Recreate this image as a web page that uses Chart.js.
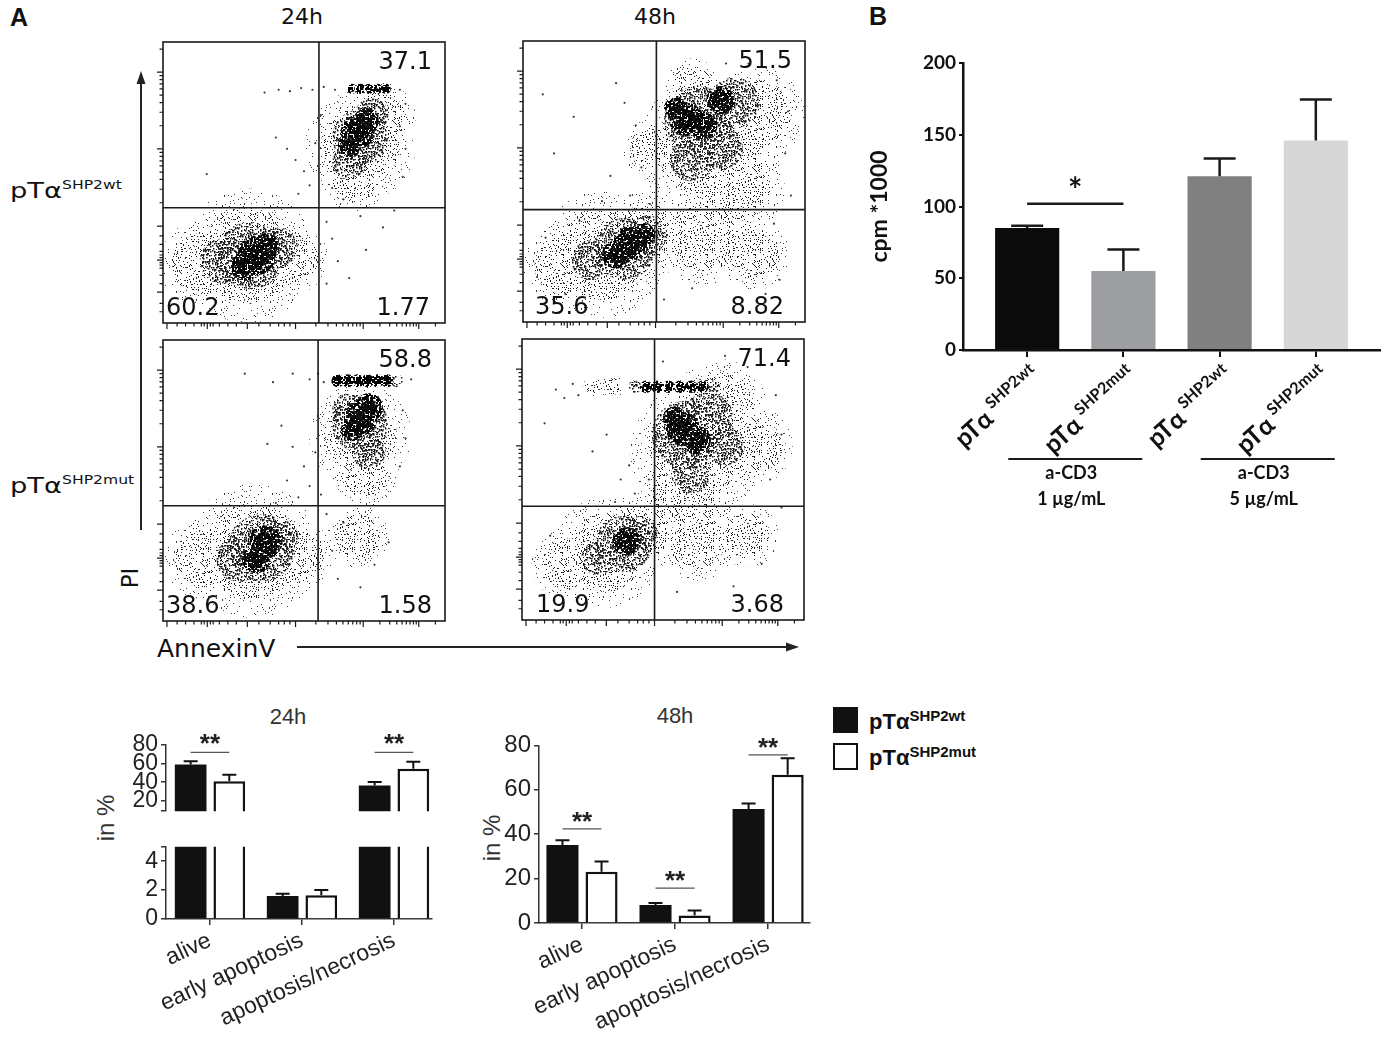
<!DOCTYPE html>
<html>
<head>
<meta charset="utf-8">
<script src="https://cdn.jsdelivr.net/npm/chart.js@4.4.1/dist/chart.umd.min.js"></script>
<style>
  html, body { margin: 0; padding: 0; background: #fff; }
  #page { position: relative; width: 1399px; height: 1053px; overflow: hidden; color: #111; }
  canvas { position: absolute; }
  .t { position: absolute; white-space: nowrap; line-height: 1; }
  .ctr { text-align: center; }
  .flowlab { font: 21px 'DejaVu Sans'; transform: scaleX(1.3); transform-origin: left center; }
  .flowlab span { font-size: 12px; position: relative; top: -9px; }
  .leg { font: bold 22px 'Liberation Sans'; }
  .leg span { font-size: 15px; position: relative; top: -8px; }
  .rot { transform: translate(-50%, -50%) rotate(-90deg); }
  .box { position: absolute; box-sizing: border-box; }
</style>
</head>
<body>
<div id="page">
  <div class="t" style="left:10px;top:3px;font:bold 25px 'Liberation Sans'">A</div>
  <div class="t" style="left:869px;top:2px;font:bold 25px 'Liberation Sans'">B</div>
  <div class="t ctr" style="left:252px;top:4px;width:100px;font:22px 'DejaVu Sans'">24h</div>
  <div class="t ctr" style="left:605px;top:4px;width:100px;font:22px 'DejaVu Sans'">48h</div>
  <div class="t flowlab" style="left:10px;top:179px">pTα<span>SHP2wt</span></div>
  <div class="t flowlab" style="left:10px;top:474px">pTα<span>SHP2mut</span></div>
  <div class="t rot" style="left:130px;top:578px;font:23px 'DejaVu Sans'">PI</div>
  <div class="t" style="left:157px;top:634px;font:25px 'DejaVu Sans'">AnnexinV</div>
  <svg width="1399" height="1053" style="position:absolute;left:0;top:0;pointer-events:none">
    <line x1="141" y1="530" x2="141" y2="82" stroke="#222" stroke-width="2"/>
    <polygon points="141,71 136.5,84 145.5,84" fill="#222"/>
    <line x1="297" y1="647" x2="788" y2="647" stroke="#222" stroke-width="2"/>
    <polygon points="799,647 786,642.5 786,651.5" fill="#222"/>
  </svg>

  <div class="t ctr" style="left:238px;top:704px;width:100px;font:22px 'Liberation Sans';color:#333">24h</div>
  <div class="t ctr" style="left:625px;top:703px;width:100px;font:22px 'Liberation Sans';color:#333">48h</div>
  <div class="t rot" style="left:106px;top:818px;font:24px 'Liberation Sans';color:#333">in %</div>
  <div class="t rot" style="left:492px;top:838px;font:24px 'Liberation Sans';color:#333">in %</div>

  <div class="box" style="left:833px;top:707px;width:25px;height:26px;background:#111"></div>
  <div class="box" style="left:833px;top:743px;width:25px;height:27px;border:2.5px solid #111;background:#fff"></div>
  <div class="t leg" style="left:869px;top:709px">pTα<span>SHP2wt</span></div>
  <div class="t leg" style="left:869px;top:745px">pTα<span>SHP2mut</span></div>
</div>
<script>
// ---------- Panel A: AnnexinV / PI dot plots (both axes 0-100 display units) ----------
const gatesX = [55.3, 47.3, 55, 47];
const gatesY = [41, 40, 41, 40.5];
const quadrantUR = ['37.1', '51.5', '58.8', '71.4'];
const quadrantLL = ['60.2', '35.6', '38.6', '19.9'];
const quadrantLR = ['1.77', '8.82', '1.58', '3.68'];

// cell populations: [annexin, PI, spread]
const wt24Haze = [[30,24,17],[14,21,11],[46,23,9],[70,63,14],[68,51,8],[77,73,9]];
const wt24Body = [[31,24,12],[21,22,8],[41,27,7],[70,66,10],[66,57,6],[74,74,6]];
const wt24Core = [[33,24,7],[29,20,5],[37,28,4],[69,68,6],[72,72,4.5],[66,63,4],
                  [67,83.3,1.8],[70,83.3,1.8],[73,83.3,1.8],[76,83.3,1.8],[79,83.3,1.8]];
const wt24Dots = [[36,82],[41,83],[45,82.5],[49,83.6],[53,83],[57,84],[61,83],[84,83],[86,78],
                  [40,66],[44,62],[47,58],[50,54],[52,49],[48,46],[54,64],[15.5,53],[58,36],
                  [60,30],[62,22],[66,16],[72,26],[78,34],[82,40],[58,14],[70,38],[64,44],
                  [86,62],[85,52],[60,48],[56,74],[84,70]];

const wt48Haze = [[28,24,16],[14,20,10],[44,31,11],[64,30,12],[82,24,9],[66,62,18],[76,48,12],
                  [83,74,12],[45,62,7],[60,84,7]];
const wt48Body = [[36,26,11],[44,31,7],[24,22,7],[62,72,12],[75,78,9],[60,58,8],[70,62,8]];
const wt48Core = [[38,28,6],[33,24,5],[43,31,4],[58,72,6],[70,79,5],[54,76,4],[64,70,5]];
const wt48Dots = [[7,81],[18,73],[11,60],[33,85],[36,78],[40,70],[31,52],[38,45],[42,55],[45,42],
                  [28,43],[90,86],[93,60],[95,45],[89,35],[91,15],[86,10],[60,12],[50,8],[15,10],
                  [8,30],[72,92],[80,92],[94,75],[5,16],[20,36]];

const mut24Haze = [[32,25,17],[14,22,10],[48,23,9],[70,66,13],[72,52,8],[69,30,8]];
const mut24Body = [[35,26,12],[27,22,8],[42,30,6],[70,70,10],[73,60,6],[66,75,6],[83,85.5,2.3]];
const mut24Core = [[36,28,6],[33,22,5],[70,72,6],[73,76,5],[67,68,4],
                   [62,85.5,2.3],[65.5,85.5,2.3],[69,85.5,2.3],[72.5,85.5,2.3],[76,85.5,2.3],[79.5,85.5,2.3]];
const mut24Dots = [[29,88],[39,85],[46,88],[37,63],[42,69.5],[46,62],[50,55],[52,48],[48,44],
                   [44,50],[54,60],[40,42],[56,45],[60,25],[62,15],[75,20],[80,28],[70,12],
                   [64,35],[58,38],[85,75],[84,55],[86,65],[55,88],[52,86],[57,85],[88,86]];

const mut48Haze = [[30,24,14],[16,20,9],[42,31,10],[62,60,17],[70,76,12],[58,45,12],[62,28,10],
                   [80,30,8],[82,62,10],[32,83,3],[25,83,2.5]];
const mut48Body = [[36,27,10],[42,31,6],[27,22,6],[58,66,12],[66,72,9],[60,52,7],[72,62,7],
                   [40,83,2.3],[68,83,2.3]];
const mut48Core = [[37,28,5],[57,68,6],[62,64,5],[54,72,4],
                   [44,83,2.2],[48,83,2.2],[52,83,2.2],[56,83,2.2],[60,83,2.2],[64,83,2.2]];
const mut48Dots = [[12,82],[20,80],[8,70],[25,60],[30,66],[35,50],[38,55],[40,45],[33,42],[45,50],
                   [90,80],[92,66],[88,50],[92,40],[85,20],[75,12],[55,10],[20,8],[10,30],[72,94],
                   [80,90],[50,92],[18,84],[15,79]];

// log-like instrument ticks
const flowMajorX = [1.4, 15.7, 29.9, 47, 71, 90.7];
const flowMinorX = [5, 8, 11, 13.6, 14.6, 16.8, 17.8, 20, 23, 26, 34, 38, 41, 43, 45,
                    54.2, 58.5, 61.5, 63.8, 65.7, 67.3, 68.7, 69.9,
                    76.9, 80.4, 82.9, 84.8, 86.3, 87.6, 88.8, 89.8, 96.6];
const flowMajorY = [11, 22.4, 34.5, 62, 89.3];
const flowMinorY = [4, 7, 14, 17, 19.5, 20.6, 21.5, 23.3, 24.2, 25.5, 28, 31,
                    42.8, 47.6, 51.1, 53.7, 55.9, 57.7, 59.3, 60.7,
                    70.2, 75, 78.4, 81.1, 83.3, 85.1, 86.6, 88, 97.5];

// ---------- Bottom: percentages ----------
const categories = ['alive', 'early apoptosis', 'apoptosis/necrosis'];
const wt24 = [59, 1.6, 36.5];
const wt24Err = [3.3, 0.15, 3.8];
const mut24 = [41, 1.65, 54.5];
const mut24Err = [7, 0.35, 7.5];
const sig24Cats = [0, 2];
const sig24Level = [72, 72];

const wt48 = [35.1, 8.1, 51.3];
const wt48Err = [2.2, 0.9, 2.5];
const mut48 = [23.1, 3.4, 66.8];
const mut48Err = [4.6, 2.2, 7.4];
const sig48Cats = [0, 1, 2];
const sig48Level = [42.4, 15.7, 75.7];

// ---------- Panel B: proliferation ----------
const prolifSups = ['SHP2wt', 'SHP2mut', 'SHP2wt', 'SHP2mut'];
const prolifValues = [85, 55, 121, 146];
const prolifErr = [1.5, 15, 12.5, 28.5];
const prolifSigLevel = 102;
const groupNames = ['a-CD3', 'a-CD3'];
const groupDoses = ['1 µg/mL', '5 µg/mL'];
const groupMembers = [[1, 2], [3, 4]];

// ---------------------------------------------------------------
Chart.defaults.font.family = "'Liberation Sans', Arial, sans-serif";
Chart.defaults.color = '#222';
Chart.defaults.animation = false;
Chart.defaults.events = [];
Chart.defaults.plugins.legend.display = false;
Chart.defaults.plugins.tooltip.enabled = false;
Chart.defaults.responsive = false;

const page = document.getElementById('page');
function addCanvas(left, top, w, h) {
  const c = document.createElement('canvas');
  c.width = w; c.height = h;
  c.style.left = left + 'px'; c.style.top = top + 'px';
  c.style.width = w + 'px'; c.style.height = h + 'px';
  page.appendChild(c);
  return c;
}

// dotted texture so the clouds look like acquired events
function speckle(seed, density, size, color) {
  const n = 48;
  const c = document.createElement('canvas');
  c.width = n; c.height = n;
  const g = c.getContext('2d');
  g.fillStyle = color;
  for (let i = 0; i < n; i += 2) {
    for (let j = 0; j < n; j += 2) {
      let h = Math.imul(i * 31 + seed * 7, 0x9E3779B1) ^ Math.imul(j * 17 + seed * 101, 0x85EBCA77);
      h = Math.imul(h ^ (h >>> 15), 0x2C1B3C6D);
      h = (h ^ (h >>> 12)) >>> 0;
      if (h % 1000 < density * 1000) {
        g.fillRect(i + ((h >>> 20) % 2), j + ((h >>> 24) % 2), size, size);
      }
    }
  }
  return g.createPattern(c, 'repeat');
}
const fringeFill = speckle(4, 0.12, 1, 'rgba(40,40,40,0.9)');
const hazeFill = speckle(1, 0.3, 1, '#1a1a1a');
const bodyFill = speckle(2, 0.55, 1.5, '#111');
const coreFill = speckle(3, 0.75, 2, '#000');
const innerFill = speckle(5, 0.85, 2, '#000');

const llInset = [3, 12, 3, 14];
const lrInset = [15, 21, 13, 20];

const flowFrame = idx => ({
  id: 'flowFrame',
  afterDatasetsDraw(chart) {
    const {ctx, chartArea: a, scales: {x, y}} = chart;
    ctx.save();
    ctx.strokeStyle = '#1a1a1a';
    ctx.lineWidth = 1.6;
    ctx.strokeRect(a.left, a.top, a.right - a.left, a.bottom - a.top);
    const gx = x.getPixelForValue(gatesX[idx]);
    const gy = y.getPixelForValue(gatesY[idx]);
    ctx.beginPath();
    ctx.moveTo(gx, a.top); ctx.lineTo(gx, a.bottom);
    ctx.moveTo(a.left, gy); ctx.lineTo(a.right, gy);
    ctx.stroke();
    ctx.lineWidth = 1.2;
    ctx.beginPath();
    flowMajorX.forEach(v => { const p = x.getPixelForValue(v); ctx.moveTo(p, a.bottom); ctx.lineTo(p, a.bottom + 6); });
    flowMinorX.forEach(v => { const p = x.getPixelForValue(v); ctx.moveTo(p, a.bottom); ctx.lineTo(p, a.bottom + 3.5); });
    flowMajorY.forEach(v => { const p = y.getPixelForValue(v); ctx.moveTo(a.left, p); ctx.lineTo(a.left - 6, p); });
    flowMinorY.forEach(v => { const p = y.getPixelForValue(v); ctx.moveTo(a.left, p); ctx.lineTo(a.left - 3.5, p); });
    ctx.stroke();
    ctx.fillStyle = '#111';
    ctx.font = "24px 'DejaVu Sans'";
    ctx.textBaseline = 'alphabetic';
    ctx.textAlign = 'right';
    ctx.fillText(quadrantUR[idx], a.right - 13, a.top + 27);
    ctx.fillText(quadrantLR[idx], a.right - lrInset[idx], a.bottom - 8);
    ctx.textAlign = 'left';
    ctx.fillText(quadrantLL[idx], a.left + llInset[idx], a.bottom - 8);
    ctx.restore();
  }
});

const spreadPx = k => ctx => {
  const s = ctx.chart.scales.x;
  return k * Math.abs(s.getPixelForValue(ctx.raw.s) - s.getPixelForValue(0));
};
const toCloud = arr => arr.map(p => ({x: p[0], y: p[1], s: p[2]}));
const toDots = arr => arr.map(p => ({x: p[0], y: p[1]}));

function flowPlot(idx, left, top, haze, body, core, dots) {
  const w = 282, h = 281;
  const cv = addCanvas(left - 12, top - 4, w + 16, h + 16);
  const cloud = (pts, fill, k) => ({
    data: toCloud(pts), pointRadius: spreadPx(k), pointBackgroundColor: fill,
    pointBorderWidth: 0, showLine: false, clip: 0
  });
  new Chart(cv, {
    type: 'scatter',
    data: { datasets: [
      cloud(haze, fringeFill, 1.4), cloud(haze, hazeFill, 1), cloud(body, bodyFill, 1),
      cloud(core, coreFill, 1), cloud(core, innerFill, 0.6),
      { data: toDots(dots), pointRadius: 1.1, pointBackgroundColor: '#3a3a3a',
        pointBorderWidth: 0, showLine: false, clip: 0 }
    ]},
    options: {
      layout: { padding: { left: 12, top: 4, right: 4, bottom: 12 } },
      scales: {
        x: { type: 'linear', min: 0, max: 100, display: false },
        y: { type: 'linear', min: 0, max: 100, display: false }
      }
    },
    plugins: [flowFrame(idx)]
  });
}

flowPlot(0, 163, 42, wt24Haze, wt24Body, wt24Core, wt24Dots);
flowPlot(1, 523, 41, wt48Haze, wt48Body, wt48Core, wt48Dots);
flowPlot(2, 163, 340, mut24Haze, mut24Body, mut24Core, mut24Dots);
flowPlot(3, 522, 339, mut48Haze, mut48Body, mut48Core, mut48Dots);

// ---------- percentage bar charts ----------
const errorBars = (errs, sigCats, sigLevels, starShift) => ({
  id: 'errorBars',
  afterDatasetsDraw(chart) {
    const {ctx, chartArea: a, scales: {y}} = chart;
    ctx.save();
    ctx.beginPath();
    ctx.rect(a.left, a.top - 1, a.right - a.left, a.bottom - a.top + 2);
    ctx.clip();
    ctx.strokeStyle = '#111';
    ctx.lineWidth = 2;
    chart.data.datasets.forEach((ds, di) => {
      chart.getDatasetMeta(di).data.forEach((bar, i) => {
        const top = y.getPixelForValue(ds.data[i] + errs[di][i]);
        ctx.beginPath();
        ctx.moveTo(bar.x, bar.y); ctx.lineTo(bar.x, top);
        ctx.moveTo(bar.x - 7, top); ctx.lineTo(bar.x + 7, top);
        ctx.stroke();
      });
    });
    ctx.restore();
    if (!sigCats) return;
    const wtBars = chart.getDatasetMeta(0).data, mutBars = chart.getDatasetMeta(1).data;
    ctx.save();
    ctx.strokeStyle = '#555';
    ctx.lineWidth = 1.3;
    ctx.fillStyle = '#222';
    ctx.font = "bold 26px 'Liberation Sans'";
    ctx.textAlign = 'center';
    ctx.textBaseline = 'alphabetic';
    sigCats.forEach((c, k) => {
      const sy = y.getPixelForValue(sigLevels[k]);
      const x0 = wtBars[c].x, x1 = mutBars[c].x;
      ctx.beginPath(); ctx.moveTo(x0, sy); ctx.lineTo(x1, sy); ctx.stroke();
      ctx.fillText('**', (x0 + x1) / 2, sy + starShift);
    });
    ctx.restore();
  }
});

function percentChart(canvas, cfg) {
  return new Chart(canvas, {
    type: 'bar',
    data: {
      labels: [1, 2, 3],
      datasets: [
        { data: cfg.wt, backgroundColor: '#111', borderWidth: 0, clip: 0,
          categoryPercentage: 0.84, barPercentage: 0.82 },
        { data: cfg.mut, backgroundColor: '#fff', borderColor: '#111', borderWidth: 2.5, clip: 0,
          categoryPercentage: 0.84, barPercentage: 0.82 }
      ]
    },
    options: {
      layout: { padding: cfg.padding },
      scales: {
        x: {
          type: 'linear', min: cfg.xMin, max: cfg.xMax, display: cfg.showX, offset: false,
          afterBuildTicks: s => { s.ticks = [1, 2, 3].map(v => ({ value: v })); },
          afterFit: s => { s.height = cfg.xHeight; },
          grid: { offset: false, drawOnChartArea: false, tickLength: 6, color: '#333', lineWidth: 1.5 },
          border: { color: '#333', width: 1.5 },
          ticks: { autoSkip: false, minRotation: 25, maxRotation: 25, padding: 2,
                   font: { size: 23 }, color: '#222', callback: v => categories[v - 1] }
        },
        y: {
          type: 'linear', min: cfg.yMin, max: cfg.yMax,
          afterBuildTicks: s => { s.ticks = cfg.yTicks.map(v => ({ value: v })); },
          afterFit: s => { s.width = cfg.yWidth; },
          grid: { drawOnChartArea: false, tickLength: 5, color: '#333', lineWidth: 1.5 },
          border: { color: '#333', width: 1.5 },
          ticks: { autoSkip: false, padding: 3, font: { size: cfg.yFont }, color: '#222',
                   callback: v => (cfg.yLabels.includes(v) ? v : '') }
        }
      }
    },
    plugins: [errorBars(cfg.errs, cfg.sigCats, cfg.sigLevels, cfg.starShift)]
  });
}

// 24h, broken axis: upper segment
percentChart(addCanvas(100, 728, 340, 100), {
  wt: wt24, mut: mut24, errs: [wt24Err, mut24Err], sigCats: sig24Cats, sigLevels: sig24Level, starShift: 0,
  padding: { top: 14, right: 8, bottom: 5, left: 0 }, xMin: 0.522, xMax: 3.413, showX: false, xHeight: 0,
  yMin: 9, yMax: 80, yTicks: [9, 20, 40, 60, 80], yLabels: [20, 40, 60, 80], yWidth: 66, yFont: 23
});
// 24h, lower segment
percentChart(addCanvas(100, 830, 340, 223), {
  wt: wt24, mut: mut24, errs: [wt24Err, mut24Err], sigCats: null,
  padding: { top: 7, right: 8, bottom: 0, left: 0 }, xMin: 0.522, xMax: 3.413, showX: true, xHeight: 134,
  yMin: 0, yMax: 5, yTicks: [0, 2, 4, 5], yLabels: [0, 2, 4], yWidth: 66, yFont: 23
});
// 48h
percentChart(addCanvas(470, 728, 350, 325), {
  wt: wt48, mut: mut48, errs: [wt48Err, mut48Err], sigCats: sig48Cats, sigLevels: sig48Level, starShift: 1,
  padding: { top: 14, right: 10, bottom: 0, left: 0 }, xMin: 0.538, xMax: 3.45, showX: true, xHeight: 130,
  yMin: 0, yMax: 80, yTicks: [0, 20, 40, 60, 80], yLabels: [0, 20, 40, 60, 80], yWidth: 69, yFont: 24
});

// ---------- Panel B ----------
const barShades = ['#0b0b0b', '#9d9ea2', '#7f807f', '#d7d7d7'];
const prolifExtras = {
  id: 'prolifExtras',
  afterDraw(chart) {
    const {ctx, chartArea: a, scales: {x, y}} = chart;
    const bars = chart.getDatasetMeta(0).data;
    ctx.save();
    ctx.strokeStyle = '#1a1a1a';
    ctx.lineWidth = 2.5;
    bars.forEach((bar, i) => {
      const top = y.getPixelForValue(prolifValues[i] + prolifErr[i]);
      ctx.beginPath();
      ctx.moveTo(bar.x, bar.y); ctx.lineTo(bar.x, top);
      ctx.moveTo(bar.x - 16, top); ctx.lineTo(bar.x + 16, top);
      ctx.stroke();
    });
    const sy = y.getPixelForValue(prolifSigLevel);
    ctx.beginPath(); ctx.moveTo(bars[0].x, sy); ctx.lineTo(bars[1].x, sy); ctx.stroke();
    ctx.fillStyle = '#111';
    ctx.font = 'bold 34px Lato';
    ctx.textAlign = 'center';
    ctx.textBaseline = 'alphabetic';
    ctx.fillText('*', (bars[0].x + bars[1].x) / 2, sy - 2);

    prolifSups.forEach((sup, i) => {
      const px = x.getPixelForValue(i + 1);
      ctx.save();
      ctx.translate(px + 8, a.bottom + 20);
      ctx.rotate(-42 * Math.PI / 180);
      ctx.textAlign = 'right';
      ctx.font = 'bold 16px Lato';
      const sw = ctx.measureText(sup).width;
      ctx.fillText(sup, 0, 0);
      ctx.font = 'bold 25px Lato';
      ctx.fillText('pTα', -sw - 5, 11);
      ctx.restore();
    });

    ctx.lineWidth = 2;
    ctx.font = 'bold 18px Lato';
    ctx.textBaseline = 'middle';
    groupMembers.forEach((m, g) => {
      const cx = (x.getPixelForValue(m[0]) + x.getPixelForValue(m[1])) / 2;
      const ly = a.bottom + 109;
      ctx.beginPath(); ctx.moveTo(cx - 67, ly); ctx.lineTo(cx + 67, ly); ctx.stroke();
      ctx.fillText(groupNames[g], cx - 4, ly + 14);
      ctx.fillText(groupDoses[g], cx - 4, ly + 40);
    });
    ctx.restore();
  }
};

new Chart(addCanvas(866, 40, 524, 480), {
  type: 'bar',
  data: {
    labels: [1, 2, 3, 4],
    datasets: [{ data: prolifValues, backgroundColor: barShades, borderWidth: 0,
                 categoryPercentage: 1, barPercentage: 0.667, clip: 0 }]
  },
  options: {
    layout: { padding: { top: 23, right: 10, bottom: 0, left: 0 } },
    scales: {
      x: {
        type: 'linear', min: 0.333, max: 4.667, offset: false,
        afterBuildTicks: s => { s.ticks = [1, 2, 3, 4].map(v => ({ value: v })); },
        afterFit: s => { s.height = 170; },
        grid: { offset: false, drawOnChartArea: false, tickLength: 7, color: '#111', lineWidth: 2 },
        border: { color: '#111', width: 2.5 },
        ticks: { display: false }
      },
      y: {
        min: 0, max: 200,
        afterBuildTicks: s => { s.ticks = [0, 50, 100, 150, 200].map(v => ({ value: v })); },
        afterFit: s => { s.width = 97; },
        grid: { drawOnChartArea: false, tickLength: 4, color: '#111', lineWidth: 2 },
        border: { color: '#111', width: 2.5 },
        ticks: { padding: 3, color: '#111', font: { family: 'Lato', weight: 'bold', size: 19 } },
        title: { display: true, text: 'cpm *1000', color: '#111',
                 font: { family: 'Lato', weight: 'bold', size: 23 }, padding: { top: 0, bottom: 8 } }
      }
    }
  },
  plugins: [prolifExtras]
});
</script>
</body>
</html>
